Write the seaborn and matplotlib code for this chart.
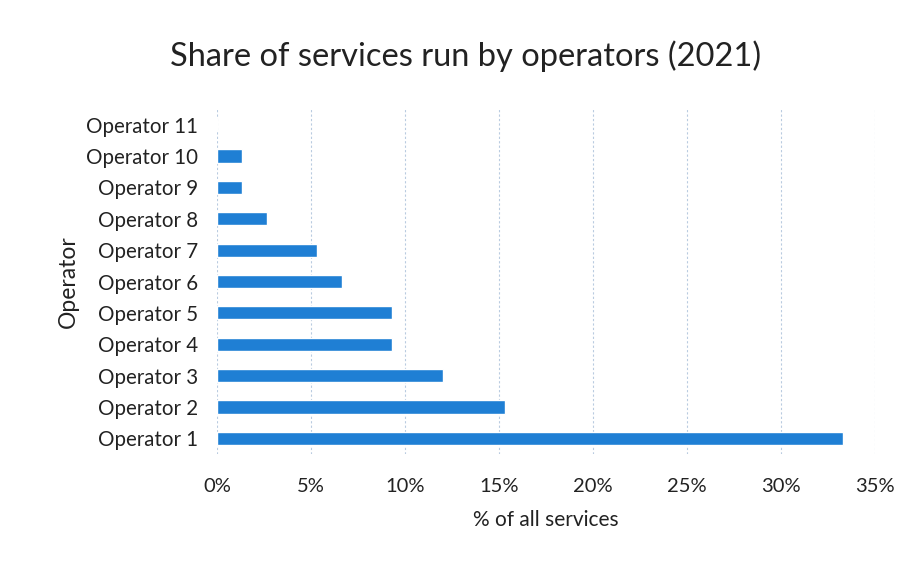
import matplotlib
matplotlib.use("Agg")
import matplotlib.pyplot as plt
import seaborn as sns
import pandas as pd
from matplotlib.ticker import FuncFormatter

operators = [f"Operator {i}" for i in range(1, 12)]
share_pct = [33.33, 15.33, 12.0, 9.33, 9.33, 6.67, 5.33, 2.67, 1.33, 1.33, 0.0]
x_ticks = [0, 5, 10, 15, 20, 25, 30, 35]

df = pd.DataFrame({"operator": operators, "share": share_pct})

sns.set_theme(style="white")
plt.rcParams["font.family"] = ["Lato", "DejaVu Sans"]

fig = plt.figure(figsize=(9.16, 5.67), dpi=100)
ax = fig.add_axes([0.237, 0.199, 0.718, 0.609])

sns.barplot(data=df, x="share", y="operator", order=operators[::-1],
            color="#1f7fd4", saturation=1, width=0.42, ax=ax, orient="h")

ax.set_xlim(0, 35)
ax.set_xticks(x_ticks)
ax.xaxis.set_major_formatter(FuncFormatter(lambda v, p: f"{v:.0f}%"))
ax.grid(axis="x", color="#b9cbe0", linewidth=0.8, linestyle=(0, (2, 2)))
ax.set_axisbelow(True)
for s in ax.spines.values():
    s.set_visible(False)
ax.tick_params(axis="x", length=0, pad=17, labelsize=14.5, colors="#222222")
ax.tick_params(axis="y", length=0, pad=14, labelsize=14.8, colors="#222222")

ax.set_xlabel("% of all services", fontsize=15, color="#222222", labelpad=11)
ax.set_ylabel("Operator", fontsize=16.5, color="#222222", labelpad=5)
fig.suptitle("Share of services run by operators (2021)", fontsize=23.5,
             color="#222222", x=0.508, y=0.928)

fig.savefig("out.png", dpi=100, facecolor="white")
